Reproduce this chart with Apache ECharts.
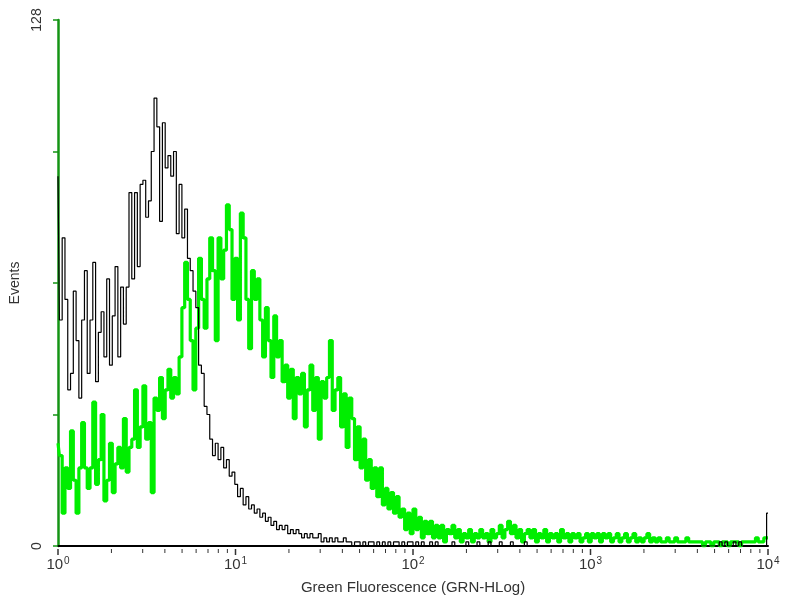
<!DOCTYPE html>
<html><head><meta charset="utf-8">
<script src="https://cdn.jsdelivr.net/npm/echarts@6/dist/echarts.min.js"></script>
<style>html,body{margin:0;padding:0;background:#fff}#c{width:800px;height:600px}</style>
</head><body><div id="c"></div>
<script>
// x axis decades (GRN-HLog), y axis range
const decades = [1, 10, 100, 1000, 10000];
const yShownLabels = [0, 128];
const nChannels = 256;

// Histogram counts per channel (256 log channels across 4 decades)
const greenCounts = [
  25,22,8,19,14,28,16,8,19,30,
  19,14,19,35,15,21,32,11,16,25,
  13,20,24,19,31,18,24,26,38,24,
  29,39,26,30,13,36,33,41,31,38,
  43,36,41,37,46,58,69,60,50,38,
  53,70,60,53,65,75,67,50,75,65,
  72,83,77,60,70,55,81,75,60,48,
  67,60,65,55,46,58,50,41,56,46,
  50,40,44,36,43,31,41,37,42,29,
  38,44,33,41,26,40,36,41,50,33,
  38,41,29,37,24,36,31,21,29,19,
  26,16,21,14,19,12,19,10,14,9,
  13,8,12,7,9,4,8,3,9,4,
  7,2,6,3,6,2,5,2,5,1,
  4,3,5,2,4,1,3,2,4,1,
  3,2,4,2,3,1,4,2,3,5,
  2,4,6,3,5,2,4,1,3,4,
  2,4,1,3,2,4,1,3,2,3,
  1,4,2,3,1,3,2,3,1,2,
  3,1,3,2,3,1,3,2,3,1,
  2,3,1,2,3,1,2,3,1,2,
  1,2,3,1,2,1,2,1,1,2,
  1,1,2,1,1,1,2,1,1,1,
  1,1,0,1,1,0,1,1,0,1,
  1,0,1,1,1,0,1,1,1,1,
  1,2,1,1,2,2
];
const blackCounts = [
  90,55,75,60,38,42,62,50,36,55,
  67,42,55,69,40,52,57,46,65,44,
  56,68,46,63,54,63,86,65,86,68,
  88,89,80,84,96,109,102,79,103,92,
  95,90,96,76,88,75,82,70,67,62,
  58,44,42,34,32,26,22,25,21,24,
  19,21,17,18,15,12,14,10,12,9,
  10,8,9,7,8,6,7,5,6,4,
  5,4,5,3,4,3,4,3,2,3,
  2,3,2,2,3,1,2,1,2,1,
  2,1,1,2,1,1,0,1,1,0,
  1,0,1,1,0,1,0,1,0,1,
  0,1,1,0,1,0,1,1,0,1,
  0,1,0,0,1,0,1,0,0,0,
  0,0,1,0,0,0,0,1,0,0,
  0,1,0,0,0,1,0,0,0,1,
  0,0,0,1,0,0,0,0,1,0,
  0,0,0,0,0,0,0,0,0,0,
  0,0,0,0,0,0,0,0,0,0,
  0,0,0,0,0,0,0,0,0,0,
  0,0,0,0,0,0,0,0,0,0,
  0,0,0,0,0,0,0,0,0,0,
  0,0,0,0,0,0,0,0,0,0,
  0,0,0,0,0,0,0,0,1,0,
  1,0,0,1,0,1,0,0,0,0,
  0,0,0,0,0,8
];

// channel -> linear fluorescence on the 4-decade log scale
function channelValue(i) { return Math.pow(10, 4 * i / (nChannels - 1)); }

// x-axis minor tick values: 2..9 within each decade
const minorTickValues = [];
for (let d = 0; d < decades.length - 1; d++) {
  for (let k = 2; k <= 9; k++) minorTickValues.push(k * decades[d]);
}

// tick marks drawn in a thin strip grid right under the main x axis
function tickSeries(values, w, h) {
  return {
    type: 'scatter', silent: true, z: 4, xAxisIndex: 1, yAxisIndex: 1,
    data: values.map(v => [v, 1]),
    symbol: 'rect', symbolSize: [w, h], symbolOffset: [0, h / 2 + 1],
    itemStyle: {color: '#000'}, emphasis: {disabled: true}
  };
}

const font = 'Liberation Sans, Arial, sans-serif';
const chart = echarts.init(document.getElementById('c'), null, {renderer: 'canvas'});
chart.setOption({
  animation: false,
  backgroundColor: '#fff',
  grid: [
    {left: 58, right: 32, top: 20, bottom: 52},
    {left: 58, right: 32, top: 548, height: 9}
  ],
  xAxis: [{
    type: 'log', logBase: 10, min: decades[0], max: decades[decades.length - 1],
    axisLine: {show: true, lineStyle: {color: '#000', width: 2}},
    axisTick: {show: false},
    splitLine: {show: false},
    axisLabel: {
      margin: 10,
      formatter: v => '{b|10}{s|' + Math.round(Math.log10(v)) + '}',
      rich: {
        b: {fontSize: 15, color: '#333', fontFamily: font},
        s: {fontSize: 10, color: '#333', fontFamily: font, padding: [0, 0, 7, 1]}
      }
    },
    name: 'Green Fluorescence (GRN-HLog)', nameLocation: 'middle', nameGap: 34,
    nameTextStyle: {fontSize: 15, color: '#333', fontFamily: font}
  }, {
    type: 'log', logBase: 10, gridIndex: 1, min: decades[0], max: decades[decades.length - 1],
    show: false
  }],
  yAxis: [{
    type: 'value', min: 0, max: 128, interval: 32,
    axisLine: {show: true, lineStyle: {color: '#149414', width: 2.5}},
    axisTick: {show: true, length: 5, lineStyle: {color: '#149414', width: 1.5}},
    splitLine: {show: false},
    axisLabel: {
      rotate: 90, margin: 14, fontSize: 14, color: '#333', fontFamily: font,
      formatter: v => yShownLabels.indexOf(v) >= 0 ? String(v) : ''
    },
    name: 'Events', nameLocation: 'middle', nameGap: 34, nameRotate: 90,
    nameTextStyle: {fontSize: 14, color: '#333', fontFamily: font}
  }, {
    type: 'value', gridIndex: 1, min: 0, max: 1, show: false
  }],
  series: [{
    type: 'line', step: 'middle', showSymbol: false, z: 2,
    data: greenCounts.map((v, i) => [channelValue(i), v]),
    lineStyle: {color: '#00ee00', width: 3.2}
  }, {
    type: 'line', step: 'middle', showSymbol: false, z: 3,
    data: blackCounts.map((v, i) => [channelValue(i), v]),
    lineStyle: {color: '#000', width: 1.2}
  },
  tickSeries(decades, 1.5, 6),
  tickSeries(minorTickValues, 1, 4)
  ]
});
</script></body></html>
